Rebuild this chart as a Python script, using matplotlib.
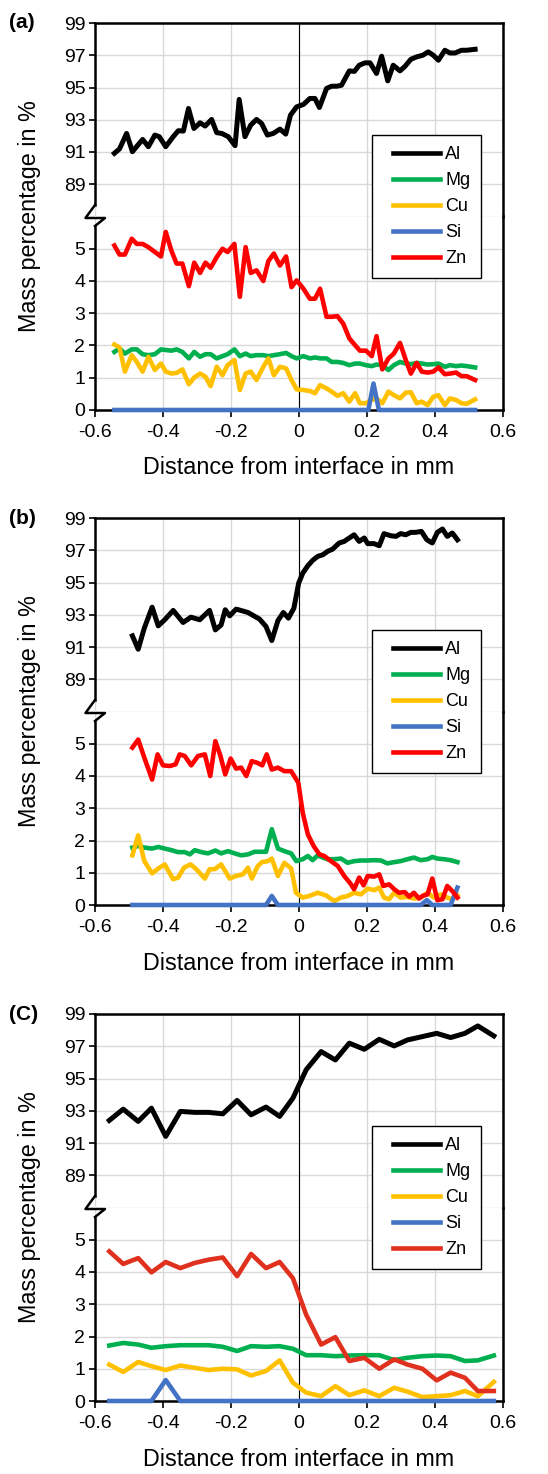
import matplotlib
matplotlib.use('Agg')
import matplotlib.pyplot as plt
from matplotlib.lines import Line2D
from matplotlib.legend_handler import HandlerLine2D

plt.rcParams['font.family'] = ['Liberation Sans', 'DejaVu Sans']

W, H = 548, 1474

# ---------------- panel (a) ----------------
a_al_x = [-0.543, -0.528, -0.507, -0.490, -0.460, -0.443, -0.424, -0.411, -0.392, -0.370,
          -0.355, -0.340, -0.325, -0.309, -0.291, -0.276, -0.257, -0.242, -0.227, -0.208,
          -0.188, -0.176, -0.159, -0.142, -0.125, -0.110, -0.093, -0.076, -0.056, -0.039,
          -0.025, -0.007, 0.013, 0.032, 0.047, 0.060, 0.081, 0.096, 0.111, 0.125,
          0.148, 0.163, 0.177, 0.194, 0.209, 0.228, 0.243, 0.261, 0.277, 0.297,
          0.312, 0.329, 0.346, 0.364, 0.380, 0.395, 0.410, 0.429, 0.444, 0.459,
          0.478, 0.493, 0.518]
a_al = [90.92, 91.19, 92.15, 91.02, 91.78, 91.33, 92.05, 91.95, 91.33, 91.95,
        92.32, 92.30, 93.70, 92.46, 92.81, 92.61, 93.02, 92.20, 92.15, 91.95,
        91.39, 94.26, 91.95, 92.67, 93.02, 92.77, 92.05, 92.15, 92.42, 92.11,
        93.29, 93.80, 93.95, 94.32, 94.32, 93.76, 94.94, 95.08, 95.08, 95.14,
        96.03, 96.00, 96.38, 96.53, 96.53, 95.87, 96.94, 95.41, 96.38, 96.03,
        96.32, 96.75, 96.90, 97.00, 97.21, 97.00, 96.69, 97.31, 97.14, 97.14,
        97.31, 97.31, 97.37]

a_x = [-0.543, -0.528, -0.512, -0.492, -0.477, -0.460, -0.443, -0.424, -0.406, -0.392,
       -0.375, -0.360, -0.343, -0.324, -0.308, -0.291, -0.275, -0.260, -0.242, -0.225,
       -0.210, -0.190, -0.174, -0.157, -0.142, -0.125, -0.105, -0.090, -0.074, -0.056,
       -0.038, -0.022, -0.007, 0.013, 0.032, 0.047, 0.062, 0.081, 0.096, 0.113,
       0.130, 0.148, 0.165, 0.179, 0.197, 0.214, 0.228, 0.245, 0.263, 0.279,
       0.297, 0.314, 0.329, 0.346, 0.361, 0.378, 0.395, 0.410, 0.429, 0.444,
       0.462, 0.478, 0.493, 0.518]
a_mg = [1.80, 1.91, 1.75, 1.88, 1.88, 1.73, 1.70, 1.73, 1.88, 1.86,
        1.84, 1.88, 1.80, 1.60, 1.80, 1.65, 1.73, 1.73, 1.60, 1.67,
        1.73, 1.88, 1.67, 1.75, 1.67, 1.70, 1.70, 1.67, 1.70, 1.73,
        1.77, 1.67, 1.60, 1.67, 1.60, 1.63, 1.60, 1.60, 1.49, 1.49,
        1.46, 1.39, 1.44, 1.44, 1.39, 1.36, 1.41, 1.39, 1.24, 1.39,
        1.49, 1.44, 1.42, 1.46, 1.44, 1.41, 1.42, 1.44, 1.34, 1.39,
        1.36, 1.38, 1.36, 1.32]
a_cu = [2.03, 1.94, 1.19, 1.70, 1.49, 1.19, 1.65, 1.24, 1.44, 1.19,
        1.13, 1.15, 1.26, 0.80, 1.01, 1.13, 1.03, 0.74, 1.34, 1.08,
        1.39, 1.55, 0.62, 1.13, 1.19, 0.93, 1.34, 1.60, 1.08, 1.34,
        1.29, 0.93, 0.64, 0.62, 0.59, 0.52, 0.77, 0.67, 0.57, 0.44,
        0.52, 0.26, 0.52, 0.21, 0.21, 0.31, 0.36, 0.21, 0.57, 0.46,
        0.36, 0.54, 0.55, 0.21, 0.26, 0.15, 0.41, 0.46, 0.15, 0.36,
        0.31, 0.21, 0.19, 0.33]
a_zn = [5.10, 4.82, 4.82, 5.31, 5.15, 5.15, 5.05, 4.90, 4.76, 5.52,
        4.93, 4.54, 4.54, 3.84, 4.57, 4.25, 4.57, 4.41, 4.74, 5.00,
        4.90, 5.15, 3.51, 5.05, 4.25, 4.33, 4.00, 4.62, 4.85, 4.48,
        4.76, 3.81, 4.02, 3.76, 3.45, 3.45, 3.76, 2.89, 2.89, 2.91,
        2.68, 2.22, 2.01, 1.84, 1.84, 1.67, 2.29, 1.26, 1.60, 1.75,
        2.08, 1.55, 1.13, 1.46, 1.19, 1.16, 1.19, 1.32, 1.11, 1.13,
        1.16, 1.05, 1.05, 0.93]
a_si_x = [-0.543, 0.204, 0.219, 0.235, 0.518]
a_si = [0, 0, 0.82, 0, 0]

# ---------------- panel (b) ----------------
b_al_x = [-0.490, -0.473, -0.455, -0.432, -0.414, -0.395, -0.370, -0.341, -0.318, -0.292,
          -0.263, -0.246, -0.229, -0.217, -0.204, -0.185, -0.150, -0.116, -0.097, -0.080,
          -0.062, -0.046, -0.031, -0.015, -0.001, 0.011, 0.026, 0.040, 0.055, 0.070,
          0.084, 0.099, 0.118, 0.133, 0.162, 0.177, 0.192, 0.202, 0.221, 0.236,
          0.250, 0.270, 0.285, 0.299, 0.314, 0.329, 0.343, 0.360, 0.376, 0.392,
          0.407, 0.422, 0.436, 0.451, 0.466]
b_al = [91.69, 90.86, 92.17, 93.47, 92.31, 92.69, 93.27, 92.52, 92.85, 92.69,
        93.27, 92.06, 92.37, 93.31, 92.93, 93.35, 93.14, 92.73, 92.27, 91.40,
        92.64, 93.14, 92.79, 93.41, 94.96, 95.58, 96.04, 96.37, 96.62, 96.72,
        96.93, 97.07, 97.45, 97.55, 97.96, 97.55, 97.76, 97.41, 97.41, 97.28,
        98.03, 97.90, 97.86, 98.03, 97.96, 98.11, 98.11, 98.17, 97.65, 97.45,
        98.11, 98.32, 97.86, 98.07, 97.65]

b_mg_x = [-0.490, -0.473, -0.455, -0.432, -0.414, -0.395, -0.375, -0.356, -0.336, -0.321,
          -0.307, -0.287, -0.268, -0.246, -0.229, -0.209, -0.189, -0.170, -0.150, -0.131,
          -0.111, -0.097, -0.080, -0.062, -0.043, -0.023, -0.008, 0.011, 0.026, 0.040,
          0.055, 0.070, 0.084, 0.104, 0.123, 0.143, 0.162, 0.182, 0.202, 0.221,
          0.241, 0.260, 0.280, 0.299, 0.319, 0.338, 0.358, 0.378, 0.392, 0.407,
          0.426, 0.446, 0.466]
b_mg = [1.78, 1.83, 1.78, 1.75, 1.80, 1.75, 1.70, 1.64, 1.64, 1.57,
        1.70, 1.64, 1.60, 1.69, 1.60, 1.67, 1.60, 1.54, 1.57, 1.65,
        1.65, 1.65, 2.35, 1.75, 1.67, 1.60, 1.36, 1.42, 1.52, 1.39,
        1.54, 1.47, 1.42, 1.42, 1.44, 1.31, 1.36, 1.38, 1.38, 1.39,
        1.38, 1.29, 1.33, 1.36, 1.42, 1.47, 1.39, 1.42, 1.49, 1.44,
        1.42, 1.39, 1.33]

b_cu_x = [-0.490, -0.473, -0.455, -0.432, -0.414, -0.395, -0.370, -0.356, -0.338, -0.319,
          -0.302, -0.277, -0.263, -0.248, -0.229, -0.204, -0.185, -0.165, -0.150, -0.139,
          -0.121, -0.109, -0.092, -0.080, -0.062, -0.043, -0.023, -0.009, 0.011, 0.030,
          0.055, 0.079, 0.104, 0.123, 0.143, 0.162, 0.182, 0.202, 0.221, 0.236,
          0.250, 0.265, 0.280, 0.299, 0.319, 0.338, 0.358, 0.378, 0.397, 0.417,
          0.436, 0.451, 0.466]
b_cu = [1.54, 2.16, 1.36, 0.98, 1.13, 1.26, 0.80, 0.85, 1.16, 1.26,
        1.11, 0.82, 1.11, 1.11, 1.26, 0.82, 0.90, 0.95, 1.16, 0.82,
        1.21, 1.33, 1.36, 1.44, 0.90, 1.31, 1.13, 0.38, 0.23, 0.28,
        0.38, 0.30, 0.12, 0.23, 0.28, 0.38, 0.33, 0.51, 0.46, 0.54,
        0.23, 0.18, 0.38, 0.23, 0.25, 0.20, 0.23, 0.38, 0.23, 0.33,
        0.23, 0.18, 0.30]

b_zn_x = [-0.490, -0.473, -0.455, -0.432, -0.416, -0.400, -0.380, -0.363, -0.351, -0.336,
          -0.317, -0.297, -0.277, -0.261, -0.246, -0.231, -0.217, -0.201, -0.185, -0.170,
          -0.155, -0.139, -0.123, -0.108, -0.095, -0.080, -0.062, -0.043, -0.023, -0.002,
          0.011, 0.026, 0.043, 0.060, 0.074, 0.094, 0.114, 0.133, 0.151, 0.162,
          0.177, 0.190, 0.202, 0.221, 0.236, 0.248, 0.265, 0.280, 0.294, 0.311,
          0.324, 0.338, 0.353, 0.363, 0.378, 0.392, 0.407, 0.422, 0.436, 0.451,
          0.466]
b_zn = [4.88, 5.13, 4.57, 3.89, 4.67, 4.33, 4.31, 4.36, 4.67, 4.62,
        4.33, 4.62, 4.67, 4.00, 5.08, 4.62, 4.05, 4.54, 4.23, 4.26,
        4.00, 4.46, 4.41, 4.33, 4.67, 4.20, 4.26, 4.15, 4.15, 3.79,
        2.86, 2.19, 1.83, 1.57, 1.52, 1.36, 1.21, 0.90, 0.67, 0.49,
        0.85, 0.61, 0.90, 0.88, 0.95, 0.59, 0.64, 0.49, 0.38, 0.40,
        0.26, 0.38, 0.20, 0.28, 0.33, 0.82, 0.15, 0.18, 0.59, 0.43,
        0.23]
b_si_x = [-0.490, -0.097, -0.080, -0.062, 0.358, 0.376, 0.392, 0.446, 0.466]
b_si = [0, 0, 0.28, 0, 0, 0.15, 0, 0, 0.54]

# ---------------- panel (c) ----------------
c_x = [-0.558, -0.517, -0.473, -0.434, -0.392, -0.349, -0.307, -0.266, -0.224, -0.182,
       -0.141, -0.097, -0.057, -0.018, 0.021, 0.065, 0.107, 0.148, 0.192, 0.236,
       0.280, 0.319, 0.363, 0.405, 0.446, 0.488, 0.526, 0.573]
c_al = [92.40, 93.10, 92.34, 93.16, 91.41, 92.96, 92.90, 92.90, 92.81, 93.64,
        92.75, 93.23, 92.65, 93.78, 95.54, 96.67, 96.15, 97.19, 96.81, 97.43,
        97.02, 97.39, 97.60, 97.80, 97.54, 97.80, 98.26, 97.64]
c_mg = [1.72, 1.80, 1.75, 1.65, 1.70, 1.73, 1.73, 1.73, 1.68, 1.55,
        1.70, 1.68, 1.70, 1.62, 1.42, 1.42, 1.39, 1.41, 1.42, 1.42,
        1.27, 1.34, 1.39, 1.41, 1.39, 1.24, 1.26, 1.41]
c_cu = [1.13, 0.90, 1.21, 1.08, 0.96, 1.10, 1.03, 0.96, 1.00, 0.98,
        0.79, 0.93, 1.26, 0.57, 0.26, 0.15, 0.46, 0.18, 0.33, 0.15,
        0.41, 0.29, 0.12, 0.15, 0.18, 0.31, 0.15, 0.59]
c_si = [0, 0, 0, 0, 0.65, 0, 0, 0, 0, 0,
        0, 0, 0, 0, 0, 0, 0, 0, 0, 0,
        0, 0, 0, 0, 0, 0, 0, 0]
c_zn = [4.64, 4.25, 4.43, 3.99, 4.31, 4.12, 4.28, 4.38, 4.45, 3.87,
        4.56, 4.12, 4.31, 3.81, 2.68, 1.75, 1.98, 1.24, 1.34, 1.00,
        1.29, 1.13, 1.00, 0.64, 0.88, 0.72, 0.31, 0.31]

x_ticks = [-0.6, -0.4, -0.2, 0, 0.2, 0.4, 0.6]
x_labels = ['-0.6', '-0.4', '-0.2', '0', '0.2', '0.4', '0.6']
up_ticks = [89, 91, 93, 95, 97, 99]
low_ticks = [0, 1, 2, 3, 4, 5]
elements = ['Al', 'Mg', 'Cu', 'Si', 'Zn']

C_AL, C_MG, C_CU, C_SI = 'black', '#00B050', '#FFC000', '#4472C4'
GRID = '#D9D9D9'
LW = 3.3

panels = [
    dict(label='(a)', top=23, al=(a_al_x, a_al), mg=(a_x, a_mg), cu=(a_x, a_cu),
         si=(a_si_x, a_si), zn=(a_x, a_zn), zn_c='#FF0000'),
    dict(label='(b)', top=518, al=(b_al_x, b_al), mg=(b_mg_x, b_mg), cu=(b_cu_x, b_cu),
         si=(b_si_x, b_si), zn=(b_zn_x, b_zn), zn_c='#FF0000'),
    dict(label='(C)', top=1014, al=(c_x, c_al), mg=(c_x, c_mg), cu=(c_x, c_cu),
         si=(c_x, c_si), zn=(c_x, c_zn), zn_c='#E0301E'),
]

fig = plt.figure(figsize=(W / 100, H / 100), dpi=100)

L, R, PH = 95, 503, 387


def fx(px):
    return px / W


def fy(py):
    return 1 - py / H


for p in panels:
    top = p['top']
    half = PH / 2
    ax_up = fig.add_axes([fx(L), fy(top + half), (R - L) / W, half / H])
    ax_lo = fig.add_axes([fx(L), fy(top + PH), (R - L) / W, half / H])
    ax_up.set_zorder(3)
    ax_up.patch.set_alpha(0)

    for ax in (ax_up, ax_lo):
        ax.set_xlim(-0.6, 0.6)
        ax.set_xticks(x_ticks)
        ax.grid(True, color=GRID, lw=1.0)
        ax.set_axisbelow(True)
        ax.axvline(0, color='black', lw=0.8, zorder=2)
        for s in ('left', 'right', 'top', 'bottom'):
            ax.spines[s].set_linewidth(1.8)
        ax.tick_params(labelsize=14, width=1.2, length=4, direction='out')

    # upper part: Al, 87..99
    ax_up.set_ylim(87, 99)
    ax_up.set_yticks(up_ticks)
    ax_up.spines['bottom'].set_visible(False)
    ax_up.spines['left'].set_bounds(87.7, 99)
    ax_up.tick_params(axis='x', bottom=False, labelbottom=False)
    ax_up.tick_params(axis='y', pad=3)
    ax_up.axhline(87, color=GRID, lw=1.0, zorder=0)

    # lower part: minor elements, 0..6
    ax_lo.set_ylim(0, 6)
    ax_lo.set_yticks(low_ticks)
    ax_lo.spines['top'].set_visible(False)
    ax_lo.spines['left'].set_bounds(0, 5.71)
    ax_lo.set_xticklabels(x_labels)
    ax_lo.tick_params(axis='x', pad=5, length=5)
    ax_lo.tick_params(axis='y', pad=3)

    ax_up.plot(*p['al'], color=C_AL, lw=LW + 0.3, zorder=5)
    ax_lo.plot(*p['mg'], color=C_MG, lw=LW, zorder=5)
    ax_lo.plot(*p['cu'], color=C_CU, lw=LW, zorder=6)
    ax_lo.plot(*p['si'], color=C_SI, lw=LW, zorder=7, clip_on=False)
    ax_lo.plot(*p['zn'], color=p['zn_c'], lw=LW, zorder=8)

    # axis break mark on the left spine
    zig_x = [L, L - 9.5, L + 10, L]
    zig_y = [top + 182, top + 195, top + 195, top + 203]
    fig.add_artist(Line2D([fx(v) for v in zig_x], [fy(v) for v in zig_y],
                          color='black', lw=1.8, transform=fig.transFigure))

    handles = [Line2D([], [], color=c, lw=LW)
               for c in (C_AL, C_MG, C_CU, C_SI, p['zn_c'])]
    leg = ax_up.legend(handles, elements, loc='upper left',
                       bbox_to_anchor=((372 - L) / (R - L), (half - 112) / half),
                       fontsize=13, frameon=True, fancybox=False, framealpha=1,
                       edgecolor='black', handlelength=3.15, handletextpad=0.3,
                       labelspacing=0.5, borderpad=0.6, borderaxespad=0,
                       handler_map={Line2D: HandlerLine2D(xpad=0.55)})
    leg.get_frame().set_linewidth(1.0)
    leg.set_zorder(20)

    fig.text(fx(9), fy(top), p['label'], fontsize=15, fontweight='bold', va='center')
    fig.text(fx(30), fy(top + half), 'Mass percentage in %', rotation=90,
             fontsize=16.8, ha='center', va='center')
    fig.text(fx((L + R) / 2), fy(top + PH + 58), 'Distance from interface in mm',
             fontsize=16.8, ha='center', va='center')

fig.savefig('out.png', dpi=100)
